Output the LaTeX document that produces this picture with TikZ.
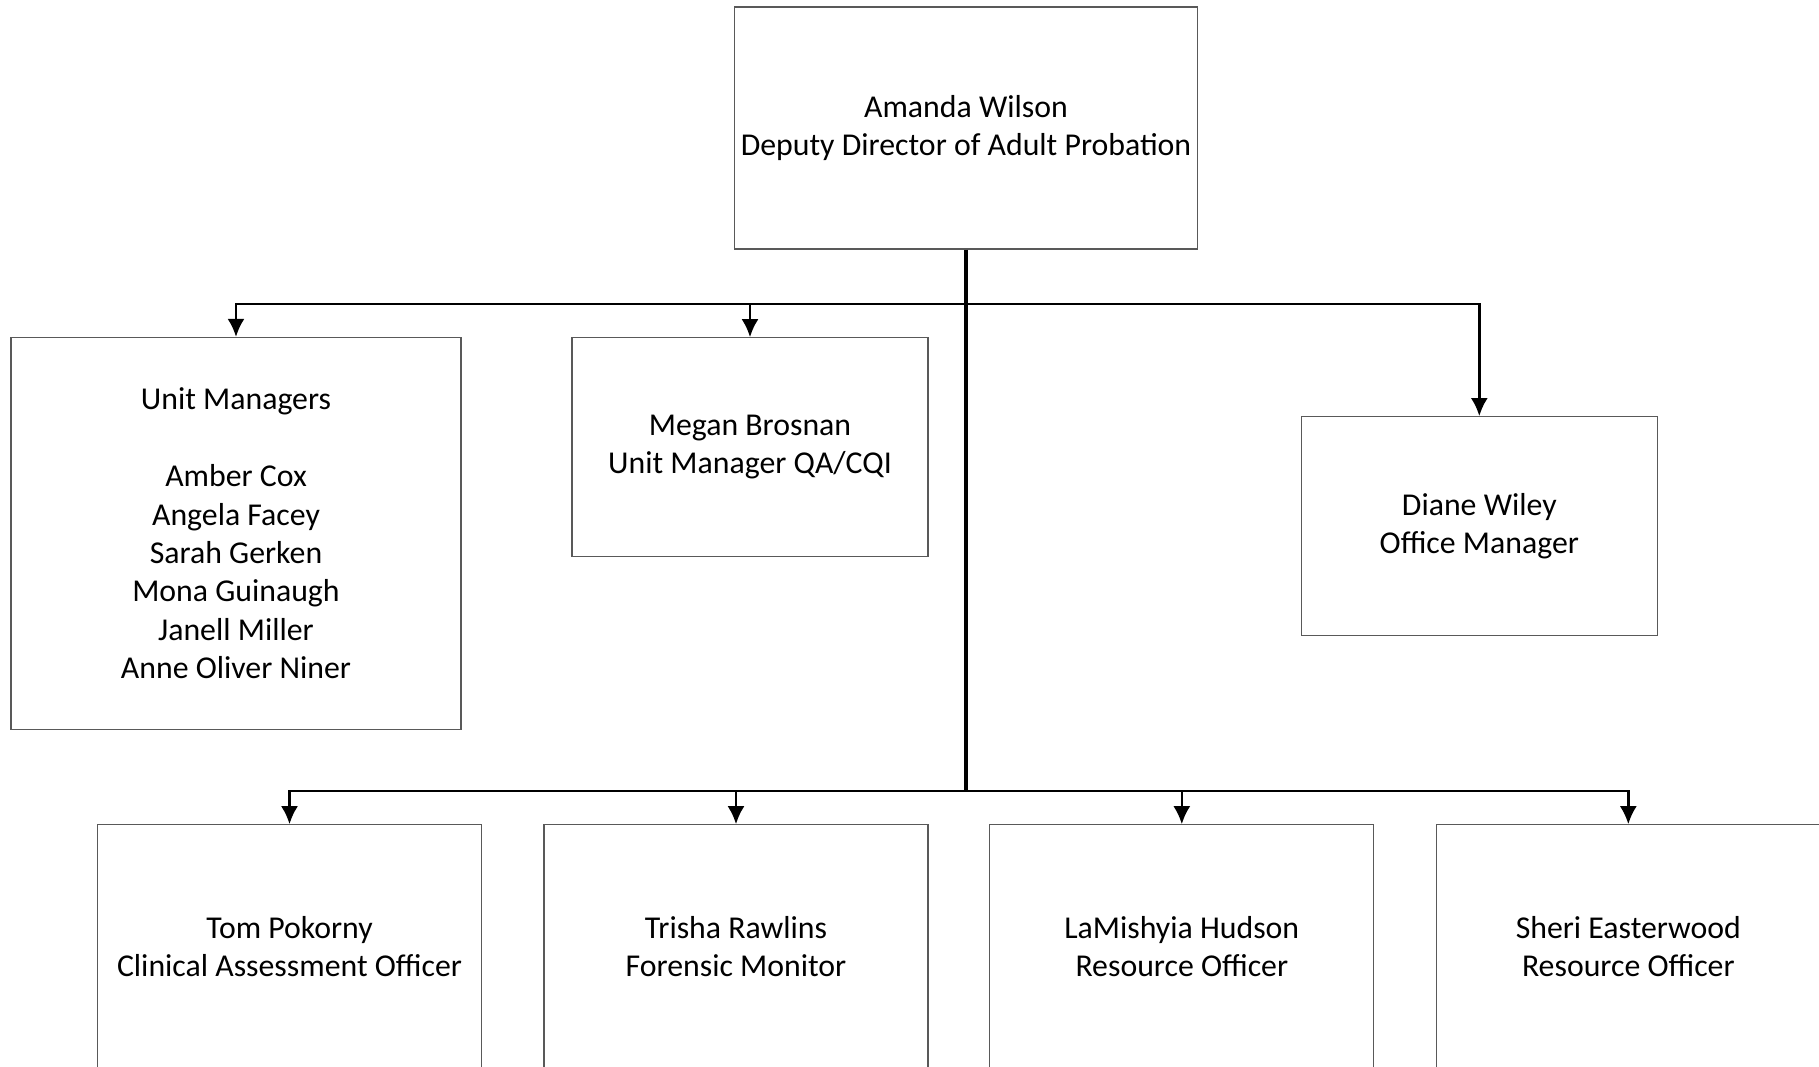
\documentclass[tikz,border=0pt]{standalone}
\usepackage{fontspec}
\setmainfont{Carlito}
\usepackage{tikz}
\usetikzlibrary{arrows.meta}
\tikzset{>={Latex[length=9pt,width=8.5pt]}}

\begin{document}
\begin{tikzpicture}[
            x=0.5pt, y=-0.5pt,
            post/.style={draw=black!65, line width=0.6pt, align=center, inner sep=0pt,
                font=\fontsize{15.9}{19.2}\selectfont},
            wide/.style={post, minimum width=231.5pt, minimum height=121pt},
            small/.style={post, minimum width=178pt, minimum height=109.5pt},
            low/.style={post, minimum width=192pt, minimum height=122pt},
            link/.style={->, line width=1.3pt}
        ]
        \path[use as bounding box, clip] (0, 0) rectangle (1819, 1066);
        % top
        \node[wide] (boss) at (966, 128) {Amanda Wilson\\Deputy Director of Adult Probation};
        % middle row
        \node[post, minimum width=225pt, minimum height=196pt] (units) at (236, 533.5) {Unit Managers\\[19.2pt]Amber Cox\\Angela Facey\\Sarah Gerken\\Mona Guinaugh\\Janell Miller\\Anne Oliver Niner};
        \node[small] (megan) at (750, 447.3) {Megan Brosnan\\Unit Manager QA/CQI};
        \node[small] (diane) at (1479.3, 526.2) {Diane Wiley\\Office Manager};
        % bottom row
        \foreach \x/\who/\job/\id in {289.5/Tom Pokorny/Clinical Assessment Officer/tom,
                736/Trisha Rawlins/Forensic Monitor/trisha,
                1181.8/LaMishyia Hudson/Resource Officer/lamishyia,
                1628.3/Sheri Easterwood/Resource Officer/sheri} {
            \node[low] (\id) at (\x, 946.8) {\who\\\job};
        }
        % connectors
        \coordinate (upbus) at (966, 304);
        \coordinate (lowbus) at (966, 791);
        \draw[line width=1.7pt] (boss.south) -- (lowbus);
        \foreach \id in {units, megan, diane} {
            \draw[link] (upbus) -| (\id.north);
        }
        \foreach \id in {tom, trisha, lamishyia, sheri} {
            \draw[link] (lowbus) -| (\id.north);
        }
        \end{tikzpicture}
\end{document}
